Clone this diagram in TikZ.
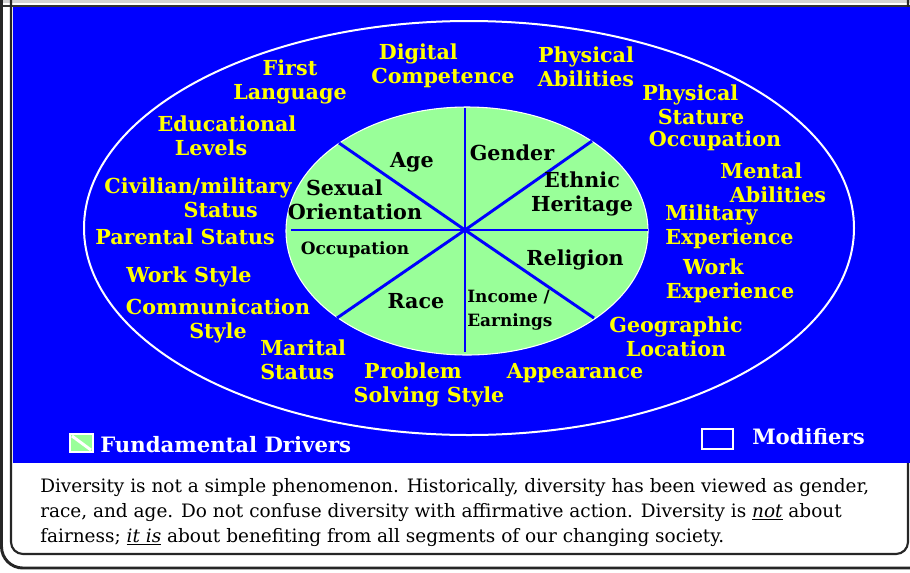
\documentclass[tikz,border=0pt]{standalone}
\usepackage{fontspec}
\setmainfont{DejaVu Serif}

\definecolor{slideblue}{RGB}{0,0,255}
\definecolor{drivergreen}{RGB}{153,255,153}
\definecolor{modyellow}{RGB}{255,255,0}

\tikzset{
  modifier/.style={text=modyellow, font=\bfseries\fontsize{15.5}{18}\selectfont, align=center, inner sep=0pt},
  driver/.style={text=black, font=\bfseries\fontsize{15.5}{18}\selectfont, align=center, inner sep=0pt},
  smalldriver/.style={driver, font=\bfseries\fontsize{12.7}{18}\selectfont},
  legend/.style={text=white, font=\bfseries\fontsize{15.9}{18}\selectfont, inner sep=0pt, anchor=west},
  spoke/.style={slideblue, line width=2.2pt},
}

\begin{document}
\begin{tikzpicture}[x=0.75pt,y=-0.75pt]
\useasboundingbox (0,0) rectangle (910,572);
\clip (0,0) rectangle (910,572);

\begin{scope}[shift={(0,0)}]
        \coordinate (O) at (465,230);
        \coordinate (T) at (465,108);
        \coordinate (B) at (465,352);
        \coordinate (L) at (291,230);
        \coordinate (R) at (648,230);
        \coordinate (UL) at (339,143);
        \coordinate (UR) at (592,141);
        \coordinate (LL) at (337,318);
        \coordinate (LR) at (594,318);

        % Ramka
        \fill[white] (0,0) rectangle (910,572);
        \fill[gray!35] (0,0) rectangle (910,3);
        \draw[black!80, line width=1.5pt] (0,5.5) -- (910,5.5);
        \draw[black!85, line width=1.6pt, rounded corners=9] (11,-5) -- (11,554) -- (908,554) -- (908,-5);
        \draw[black!85, line width=2.2pt, rounded corners=16] (1.5,-5) -- (1.5,568) -- (920,568);
        \fill[slideblue] (13,7) rectangle (910,463);

        % Elipsy
        \draw[white, line width=1.5pt] (469,228) ellipse [x radius=385, y radius=207];
        \fill[drivergreen] (467,231) ellipse [x radius=181, y radius=124];
        \draw[white, line width=0.8pt] (467,231) ellipse [x radius=181, y radius=124];

        \draw[spoke] (O) -- (T);
        \draw[spoke] (O) -- (B);
        \draw[spoke] (O) -- (L);
        \draw[spoke] (O) -- (R);
        \draw[spoke] (O) -- (UL);
        \draw[spoke] (O) -- (UR);
        \draw[spoke] (O) -- (LL);
        \draw[spoke] (O) -- (LR);

        % Fundamental drivers
        \node[driver] (age) at (412,162) {Age};
        \node[driver] (gender) at (512,153) {Gender};
        \node[driver] (ethnic) at (582,194) {Ethnic\\Heritage};
        \node[driver] (sexual) at (355,200) {Sexual\hspace*{16pt}\\Orientation};
        \node[smalldriver] (occin) at (355,250) {Occupation};
        \node[driver] (religion) at (575,260) {Religion};
        \node[driver] (race) at (416,301) {Race};
        \node[smalldriver, anchor=west, align=left] (income) at (467,310) {Income /\\Earnings};

        % Modifiers
        \node[modifier] (firstlang) at (290,82) {First\\Language};
        \node[modifier] (digital) at (443,66) {Digital\hspace*{37pt}\\Competence};
        \node[modifier] (physab) at (586,67) {Physical\\Abilities};
        \node[modifier] (physst) at (701,105) {Physical\hspace*{16pt}\\Stature};
        \node[modifier] (occout) at (715,141) {Occupation};
        \node[modifier] (mental) at (778,183) {Mental\hspace*{25pt}\\Abilities};
        \node[modifier, anchor=west, align=left] (military) at (665,227) {Military\\Experience};
        \node[modifier] (workexp) at (730,281) {Work\hspace*{25pt}\\Experience};
        \node[modifier] (geo) at (676,337) {Geographic\\Location};
        \node[modifier] (appear) at (575,373) {Appearance};
        \node[modifier] (problem) at (429,385) {Problem\hspace*{24pt}\\Solving Style};
        \node[modifier, anchor=west, align=left] (marital) at (260,360) {Marital\\Status};
        \node[modifier] (comm) at (218,321) {Communication\\Style};
        \node[modifier] (workstyle) at (189,277) {Work Style};
        \node[modifier] (parental) at (185,237) {Parental Status};
        \node[modifier] (civil) at (198,198) {Civilian/military\\\hspace*{34pt}Status};
        \node[modifier] (edu) at (227,136) {Educational\\Levels\hspace*{24pt}};

        % Legenda
        \fill[drivergreen] (70,434) rectangle (93,452);
        \draw[white, line width=2.2pt] (72,436) -- (91,450);
        \draw[white, line width=1.2pt] (70,434) rectangle (93,452);
        \node[legend] (fundlab) at (100,445) {Fundamental Drivers};
        \draw[white, line width=1.6pt] (702,429) rectangle (733,449);
        \node[legend] (modlab) at (752,437) {Modifiers};

        % Opis
        \node[anchor=base west, align=left, inner sep=0pt, font=\fontsize{13.85}{18.4}\selectfont] (desc) at (40,542)
          {Diversity is not a simple phenomenon. Historically, diversity has been viewed as gender,\\
           race, and age.  Do not confuse diversity with affirmative action. Diversity is \underline{\textit{not}} about\\
           fairness; \underline{\textit{it is}} about benefiting from all segments of our changing society.};
\end{scope}

\end{tikzpicture}
\end{document}
